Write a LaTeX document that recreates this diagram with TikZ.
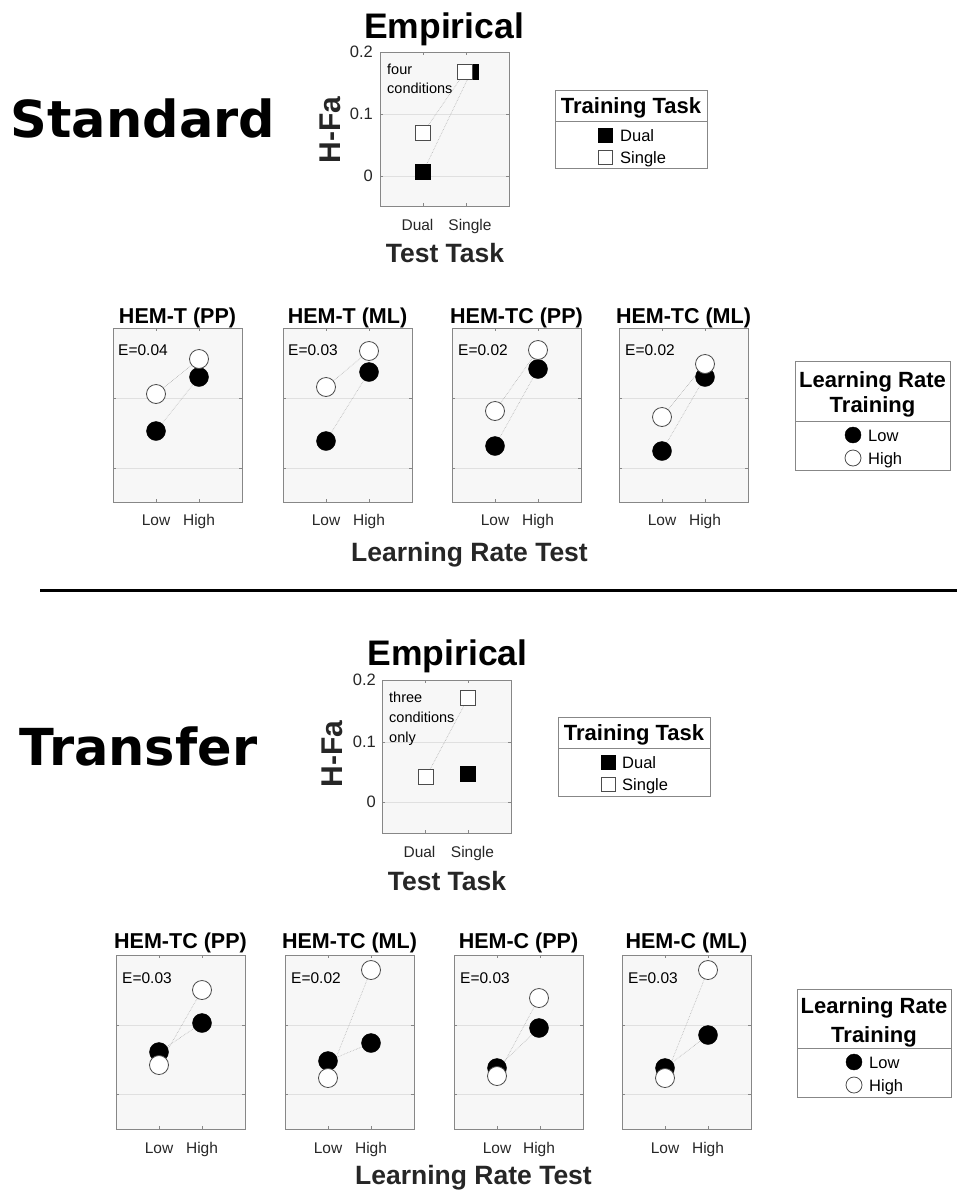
\documentclass[tikz,border=0pt]{standalone}
\usepackage{fontspec}
\setmainfont{Liberation Sans}
\newfontfamily\headfont{DejaVu Sans}
\usetikzlibrary{calc}
\pgfdeclarelayer{background}
\pgfsetlayers{background,main}
\definecolor{panelbg}{RGB}{247,247,247}
\definecolor{gridgray}{RGB}{224,224,224}
\definecolor{boxgray}{RGB}{135,135,135}
\definecolor{labelgray}{RGB}{38,38,38}
\tikzset{
	lowstyle/.style={circle,draw=black,fill=black,minimum size=19pt,inner sep=0pt},
	highstyle/.style={circle,draw=black!70,fill=white,minimum size=19pt,inner sep=0pt,line width=0.8pt},
	dualstyle/.style={rectangle,draw=black,fill=black,minimum size=15pt,inner sep=0pt},
	singlestyle/.style={rectangle,draw=black!70,fill=white,minimum size=15pt,inner sep=0pt,line width=0.8pt},
	leglow/.style={lowstyle,minimum size=16pt},
	leghigh/.style={highstyle,minimum size=16pt},
	linkstyle/.style={draw=gray!60,densely dotted,line width=0.6pt},
	ticklabel/.style={text=labelgray,font=\fontsize{15.5}{18}\selectfont,inner sep=0pt},
	ytick/.style={ticklabel,font=\fontsize{16.5}{19}\selectfont,anchor=east},
	notestyle/.style={text=black,font=\fontsize{14.5}{17}\selectfont,inner sep=0pt,anchor=base west},
	titlestyle/.style={font=\fontsize{21.5}{25}\selectfont\bfseries,inner sep=0pt,anchor=base},
	headstyle/.style={font=\fontsize{35.5}{40}\selectfont\bfseries,inner sep=0pt,anchor=base},
	axislabel/.style={text=labelgray,font=\fontsize{26.5}{30}\selectfont\bfseries,inner sep=0pt,anchor=base},
	ylabelstyle/.style={text=labelgray,font=\fontsize{30}{34}\selectfont\bfseries,inner sep=0pt,rotate=90},
	bigstyle/.style={font=\headfont\fontsize{51}{60}\selectfont\bfseries,inner sep=0pt},
	legendbox/.style={draw=boxgray,fill=white,line width=1pt},
	legtitle/.style={font=\fontsize{22}{26}\selectfont\bfseries,inner sep=0pt,anchor=base},
	legtext/.style={font=\fontsize{16.5}{20}\selectfont,inner sep=0pt,anchor=base west}
}
% axes box: left, top, bottom, grid line, grid line
\newcommand{\axesframe}[5]{%
	\begin{pgfonlayer}{background}
	\fill[panelbg] (#1,#2) rectangle (#1+129,#3);
	\draw[gridgray,line width=0.8pt] (#1,#4) -- (#1+129,#4) (#1,#5) -- (#1+129,#5);
	\draw[boxgray,line width=0.8pt] (#1+43,#2) -- ++(0,3) (#1+86,#2) -- ++(0,3)
		(#1+43,#3) -- ++(0,-3) (#1+86,#3) -- ++(0,-3)
		(#1,#4) -- ++(3,0) (#1,#5) -- ++(3,0) (#1+129,#4) -- ++(-3,0) (#1+129,#5) -- ++(-3,0);
	\draw[boxgray,line width=1pt] (#1,#2) rectangle (#1+129,#3);
	\end{pgfonlayer}}

\begin{document}
\begin{tikzpicture}[x=1pt,y=-1pt]
	\useasboundingbox (0,0) rectangle (957,1192);
	% ---------- standard ----------
	\node[bigstyle] (stdname) at (143,118) {Standard};
	\node[headstyle] (stdhead) at (444,38) {Empirical};
	\axesframe{380}{52}{206}{114}{176}
	\node[ytick] (sy2) at (373,52) {0.2};
	\node[ytick] (sy1) at (373,114) {0.1};
	\node[ytick] (sy0) at (373,176) {0};
	\node[ylabelstyle] (sylab) at (330,130) {H-Fa};
	\node[ticklabel,anchor=base] (sxd) at (417.5,230) {Dual};
	\node[ticklabel,anchor=base] (sxs) at (470,230) {Single};
	\node[axislabel] (sxlab) at (445,262) {Test Task};
	\node[notestyle] (snote1) at (387,74) {four};
	\node[notestyle] (snote2) at (387,93) {conditions};
	\node[dualstyle] (se-bd) at (423,172) {};
	\node[dualstyle] (se-bs) at (471,72) {};
	\node[singlestyle] (se-wd) at (423,133) {};
	\node[singlestyle] (se-ws) at (465,72) {};
	% legend task
	\draw[legendbox] (555,90) rectangle (707,168);
	\draw[boxgray,line width=1pt] (555,121) -- (707,121);
	\node[legtitle] (st-title) at (631,113) {Training Task};
	\node[dualstyle,minimum size=14pt] (st-dual) at (605,135) {};
	\node[legtext] (st-dualtxt) at (620,141) {Dual};
	\node[singlestyle,minimum size=14pt] (st-single) at (605,157) {};
	\node[legtext] (st-singletxt) at (620,163) {Single};
	% model panels
	\axesframe{113}{328}{502}{398}{468}
	\axesframe{283}{328}{502}{398}{468}
	\axesframe{452}{328}{502}{398}{468}
	\axesframe{619}{328}{502}{398}{468}
	\node[titlestyle] (s1-title) at (177.5,323) {HEM-T (PP)};
	\node[titlestyle] (s2-title) at (347.5,323) {HEM-T (ML)};
	\node[titlestyle] (s3-title) at (516.5,323) {HEM-TC (PP)};
	\node[titlestyle] (s4-title) at (683.5,323) {HEM-TC (ML)};
	\node[ticklabel,anchor=base west,text=black] (s1-e) at (118,355) {E=0.04};
	\node[ticklabel,anchor=base west,text=black] (s2-e) at (288,355) {E=0.03};
	\node[ticklabel,anchor=base west,text=black] (s3-e) at (458,355) {E=0.02};
	\node[ticklabel,anchor=base west,text=black] (s4-e) at (625,355) {E=0.02};
	\node[ticklabel,anchor=base] (s1-lo) at (156,525) {Low};
	\node[ticklabel,anchor=base] (s1-hi) at (199,525) {High};
	\node[ticklabel,anchor=base] (s2-lo) at (326,525) {Low};
	\node[ticklabel,anchor=base] (s2-hi) at (369,525) {High};
	\node[ticklabel,anchor=base] (s3-lo) at (495,525) {Low};
	\node[ticklabel,anchor=base] (s3-hi) at (538,525) {High};
	\node[ticklabel,anchor=base] (s4-lo) at (662,525) {Low};
	\node[ticklabel,anchor=base] (s4-hi) at (705,525) {High};
	\node[axislabel] (s-xlab) at (469.5,561) {Learning Rate Test};
	\node[lowstyle] (s1-bl) at (156,431) {};
	\node[lowstyle] (s1-bh) at (199,377) {};
	\node[highstyle] (s1-wl) at (156,394) {};
	\node[highstyle] (s1-wh) at (199,359) {};
	\node[lowstyle] (s2-bl) at (326,441) {};
	\node[lowstyle] (s2-bh) at (369,372) {};
	\node[highstyle] (s2-wl) at (326,387) {};
	\node[highstyle] (s2-wh) at (369,351) {};
	\node[lowstyle] (s3-bl) at (495,446) {};
	\node[lowstyle] (s3-bh) at (538,369) {};
	\node[highstyle] (s3-wl) at (495,411) {};
	\node[highstyle] (s3-wh) at (538,350) {};
	\node[lowstyle] (s4-bl) at (662,451) {};
	\node[lowstyle] (s4-bh) at (705,377) {};
	\node[highstyle] (s4-wl) at (662,417) {};
	\node[highstyle] (s4-wh) at (705,364) {};
	% legend rate
	\draw[legendbox] (795,361) rectangle (950,470);
	\draw[boxgray,line width=1pt] (795,421) -- (950,421);
	\node[legtitle] (sr-title1) at (872.5,387) {Learning Rate};
	\node[legtitle] (sr-title2) at (872.5,412) {Training};
	\node[leglow] (sr-low) at (853,435) {};
	\node[legtext] (sr-lowtxt) at (868,441) {Low};
	\node[leghigh] (sr-high) at (853,458) {};
	\node[legtext] (sr-hightxt) at (868,464) {High};
	% separator
	\draw[line width=3pt] (40,590) -- (957,590);
	% ---------- transfer ----------
	\node[bigstyle] (trname) at (138.5,746) {Transfer};
	\node[headstyle] (trhead) at (447.5,665) {Empirical};
	\axesframe{382}{680}{833}{742}{802}
	\node[ytick] (ty2) at (376,680) {0.2};
	\node[ytick] (ty1) at (376,742) {0.1};
	\node[ytick] (ty0) at (376,802) {0};
	\node[ylabelstyle] (tylab) at (332,754) {H-Fa};
	\node[ticklabel,anchor=base] (txd) at (419.5,857) {Dual};
	\node[ticklabel,anchor=base] (txs) at (472.5,857) {Single};
	\node[axislabel] (txlab) at (447,890) {Test Task};
	\node[notestyle] (tnote1) at (389,702) {three};
	\node[notestyle] (tnote2) at (389,722) {conditions};
	\node[notestyle] (tnote3) at (389,742) {only};
	\node[dualstyle] (te-bs) at (468,774) {};
	\node[singlestyle] (te-wd) at (426,777) {};
	\node[singlestyle] (te-ws) at (468,698) {};
	% legend task
	\draw[legendbox] (558,717) rectangle (710,796);
	\draw[boxgray,line width=1pt] (558,748) -- (710,748);
	\node[legtitle] (tt-title) at (634,740) {Training Task};
	\node[dualstyle,minimum size=14pt] (tt-dual) at (608,762) {};
	\node[legtext] (tt-dualtxt) at (622,768) {Dual};
	\node[singlestyle,minimum size=14pt] (tt-single) at (608,784) {};
	\node[legtext] (tt-singletxt) at (622,790) {Single};
	% model panels
	\axesframe{116}{955}{1129}{1025}{1094}
	\axesframe{285}{955}{1129}{1025}{1094}
	\axesframe{454}{955}{1129}{1025}{1094}
	\axesframe{622}{955}{1129}{1025}{1094}
	\node[titlestyle] (t1-title) at (180.5,948) {HEM-TC (PP)};
	\node[titlestyle] (t2-title) at (349.5,948) {HEM-TC (ML)};
	\node[titlestyle] (t3-title) at (518.5,948) {HEM-C (PP)};
	\node[titlestyle] (t4-title) at (686.5,948) {HEM-C (ML)};
	\node[ticklabel,anchor=base west,text=black] (t1-e) at (122,983) {E=0.03};
	\node[ticklabel,anchor=base west,text=black] (t2-e) at (291,983) {E=0.02};
	\node[ticklabel,anchor=base west,text=black] (t3-e) at (460,983) {E=0.03};
	\node[ticklabel,anchor=base west,text=black] (t4-e) at (628,983) {E=0.03};
	\node[ticklabel,anchor=base] (t1-lo) at (159,1153) {Low};
	\node[ticklabel,anchor=base] (t1-hi) at (202,1153) {High};
	\node[ticklabel,anchor=base] (t2-lo) at (328,1153) {Low};
	\node[ticklabel,anchor=base] (t2-hi) at (371,1153) {High};
	\node[ticklabel,anchor=base] (t3-lo) at (497,1153) {Low};
	\node[ticklabel,anchor=base] (t3-hi) at (539,1153) {High};
	\node[ticklabel,anchor=base] (t4-lo) at (665,1153) {Low};
	\node[ticklabel,anchor=base] (t4-hi) at (708,1153) {High};
	\node[axislabel] (t-xlab) at (473.5,1184) {Learning Rate Test};
	\node[lowstyle] (t1-bl) at (159,1052) {};
	\node[lowstyle] (t1-bh) at (202,1023) {};
	\node[highstyle] (t1-wl) at (159,1065) {};
	\node[highstyle] (t1-wh) at (202,990) {};
	\node[lowstyle] (t2-bl) at (328,1061) {};
	\node[lowstyle] (t2-bh) at (371,1043) {};
	\node[highstyle] (t2-wl) at (328,1078) {};
	\node[highstyle] (t2-wh) at (371,970) {};
	\node[lowstyle] (t3-bl) at (497,1068) {};
	\node[lowstyle] (t3-bh) at (539,1028) {};
	\node[highstyle] (t3-wl) at (497,1076) {};
	\node[highstyle] (t3-wh) at (539,998) {};
	\node[lowstyle] (t4-bl) at (665,1068) {};
	\node[lowstyle] (t4-bh) at (708,1035) {};
	\node[highstyle] (t4-wl) at (665,1078) {};
	\node[highstyle] (t4-wh) at (708,970) {};
	% legend rate
	\draw[legendbox] (797,989) rectangle (951,1097);
	\draw[boxgray,line width=1pt] (797,1048) -- (951,1048);
	\node[legtitle] (tr-title1) at (874,1013) {Learning Rate};
	\node[legtitle] (tr-title2) at (874,1042) {Training};
	\node[leglow] (tr-low) at (854,1062) {};
	\node[legtext] (tr-lowtxt) at (869,1068) {Low};
	\node[leghigh] (tr-high) at (854,1085) {};
	\node[legtext] (tr-hightxt) at (869,1091) {High};
	% dotted links under the markers
	\begin{pgfonlayer}{background}
	\draw[linkstyle] (se-bd)--(se-bs);
	\draw[linkstyle] (se-wd)--(se-ws);
	\draw[linkstyle] (te-wd)--(te-ws);
	\draw[linkstyle] (s1-bl)--(s1-bh);
	\draw[linkstyle] (s1-wl)--(s1-wh);
	\draw[linkstyle] (s2-bl)--(s2-bh);
	\draw[linkstyle] (s2-wl)--(s2-wh);
	\draw[linkstyle] (s3-bl)--(s3-bh);
	\draw[linkstyle] (s3-wl)--(s3-wh);
	\draw[linkstyle] (s4-bl)--(s4-bh);
	\draw[linkstyle] (s4-wl)--(s4-wh);
	\draw[linkstyle] (t1-bl)--(t1-bh);
	\draw[linkstyle] (t1-wl)--(t1-wh);
	\draw[linkstyle] (t2-bl)--(t2-bh);
	\draw[linkstyle] (t2-wl)--(t2-wh);
	\draw[linkstyle] (t3-bl)--(t3-bh);
	\draw[linkstyle] (t3-wl)--(t3-wh);
	\draw[linkstyle] (t4-bl)--(t4-bh);
	\draw[linkstyle] (t4-wl)--(t4-wh);
	\end{pgfonlayer}
\end{tikzpicture}
\end{document}
